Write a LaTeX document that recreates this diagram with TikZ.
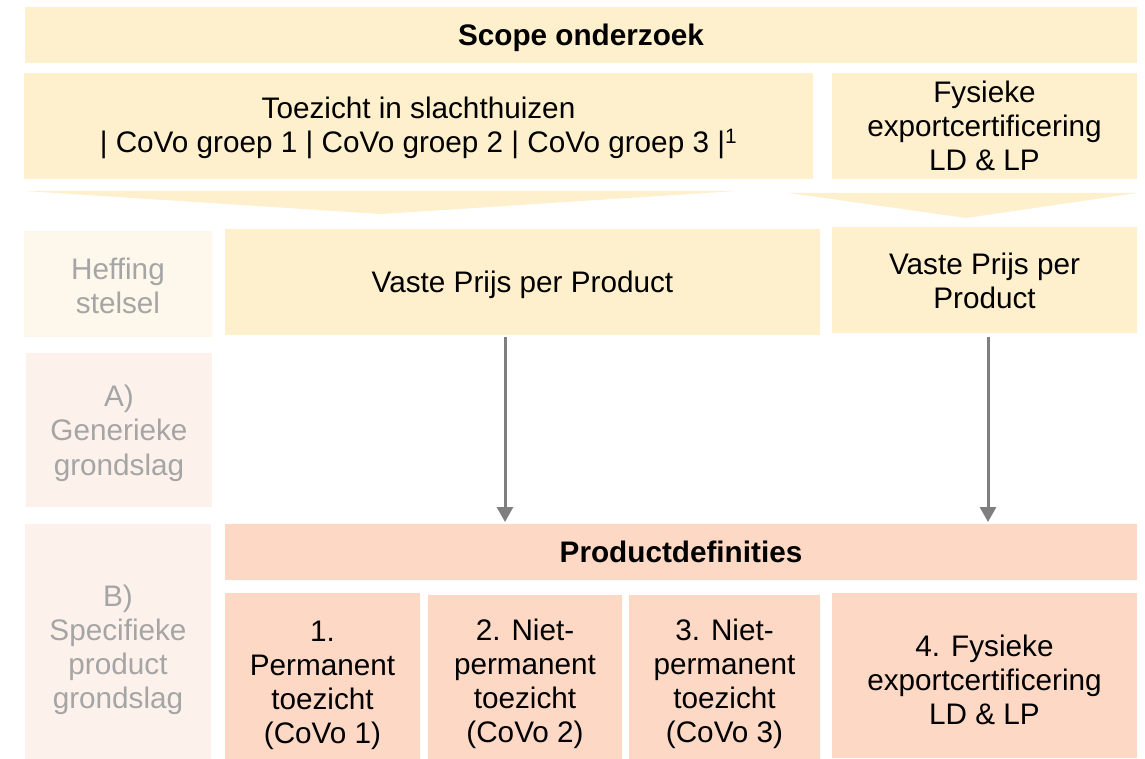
\documentclass[tikz,border=0pt]{standalone}
\usepackage{fontspec}
\setmainfont{Liberation Sans}
\usetikzlibrary{arrows.meta}
\definecolor{ylw}{HTML}{FEEFCD}
\definecolor{ylwlight}{HTML}{FEF8EC}
\definecolor{pinklight}{HTML}{FDF1EB}
\definecolor{pnk}{HTML}{FDD8C5}
\definecolor{lbl}{HTML}{A5A5A5}
\definecolor{arr}{HTML}{7F7F7F}
\newcommand{\mybox}[6]{\node[bx,fill=#6,minimum width={#4-#2},minimum height={#5-#3}] (#1) at (#2,#3) {};}
\begin{document}
\begin{tikzpicture}[x=1pt,y=-1pt,
  bx/.style={inner sep=0pt,outer sep=0pt,anchor=north west,draw=none},
  txt/.style={inner sep=0pt,align=center,font=\fontsize{29.7}{34}\selectfont,text=black},
  gtxt/.style={txt,text=lbl},
  conn/.style={draw=arr,line width=3pt,-{Triangle[width=16pt,length=15pt]}}]
\useasboundingbox (0,0) rectangle (1145,759);
% top
\mybox{scope}{25}{7}{1137}{63}{ylw}
\mybox{toez}{24}{73}{813}{179}{ylw}
\mybox{fys}{832}{73}{1137}{179}{ylw}
% chevrons
\fill[ylw] (25,191) -- (736,191) -- (381,214) -- cycle;
\fill[ylw] (789,193) -- (1137,193) -- (966,218) -- cycle;
% row 2
\mybox{heff}{24}{231}{212}{337}{ylwlight}
\mybox{vasteL}{225}{229}{820}{335}{ylw}
\mybox{vasteR}{832}{227}{1137}{333}{ylw}
% row A
\mybox{gen}{26}{353}{212}{507}{pinklight}
% row B
\mybox{spec}{25}{524}{211}{759}{pinklight}
\mybox{prod}{225}{524}{1137}{580}{pnk}
\mybox{p1}{225}{593}{420}{759}{pnk}
\mybox{p2}{428}{595}{622}{759}{pnk}
\mybox{p3}{629}{595}{820}{759}{pnk}
\mybox{p4}{832}{593}{1137}{758}{pnk}
% texts
\node[txt,font=\fontsize{29.7}{34}\selectfont\bfseries] (tscope) at ([yshift=-3pt]scope.center) {Scope onderzoek};
\node[txt] (ttoez) at ([yshift=-2pt]toez.center) {Toezicht in slachthuizen\\| CoVo groep 1 | CoVo groep 2 | CoVo groep 3 |\textsuperscript{1}};
\node[txt] (tfys) at (fys.center) {Fysieke\\exportcertificering\\LD \& LP};
\node[gtxt] (theff) at ([yshift=-2pt]heff.center) {Heffing\\stelsel};
\node[txt] (tvasteL) at ([yshift=-3pt]vasteL.center) {Vaste Prijs per Product};
\node[txt] (tvasteR) at ([yshift=-1pt]vasteR.center) {Vaste Prijs per\\Product};
\node[gtxt,font=\fontsize{29.7}{34.5}\selectfont] (tgen) at ([yshift=-3pt]gen.center) {A)\\Generieke\\grondslag};
\node[gtxt] (tspec) at ([yshift=-8.5pt]spec.center) {B)\\Specifieke\\product\\grondslag};
\node[txt,font=\fontsize{29.7}{34}\selectfont\bfseries] (tprod) at (prod.center) {Productdefinities};
\node[txt] (tp1) at ([yshift=-9pt]p1.center) {1.\\Permanent\\toezicht\\(CoVo 1)};
\node[txt] (tp2) at ([yshift=-7pt]p2.center) {2. Niet-\\permanent\\toezicht\\(CoVo 2)};
\node[txt] (tp3) at ([yshift=-7pt]p3.center) {3. Niet-\\permanent\\toezicht\\(CoVo 3)};
\node[txt] (tp4) at ([yshift=-4pt]p4.center) {4. Fysieke\\exportcertificering\\LD \& LP};
% arrows
\coordinate (axL) at (505,0);
\coordinate (axR) at (988,0);
\draw[conn,shorten <=2pt,shorten >=2pt] (vasteL.south -| axL) -- (prod.north -| axL);
\draw[conn,shorten <=4pt,shorten >=2pt] (vasteR.south -| axR) -- (prod.north -| axR);
\end{tikzpicture}
\end{document}
